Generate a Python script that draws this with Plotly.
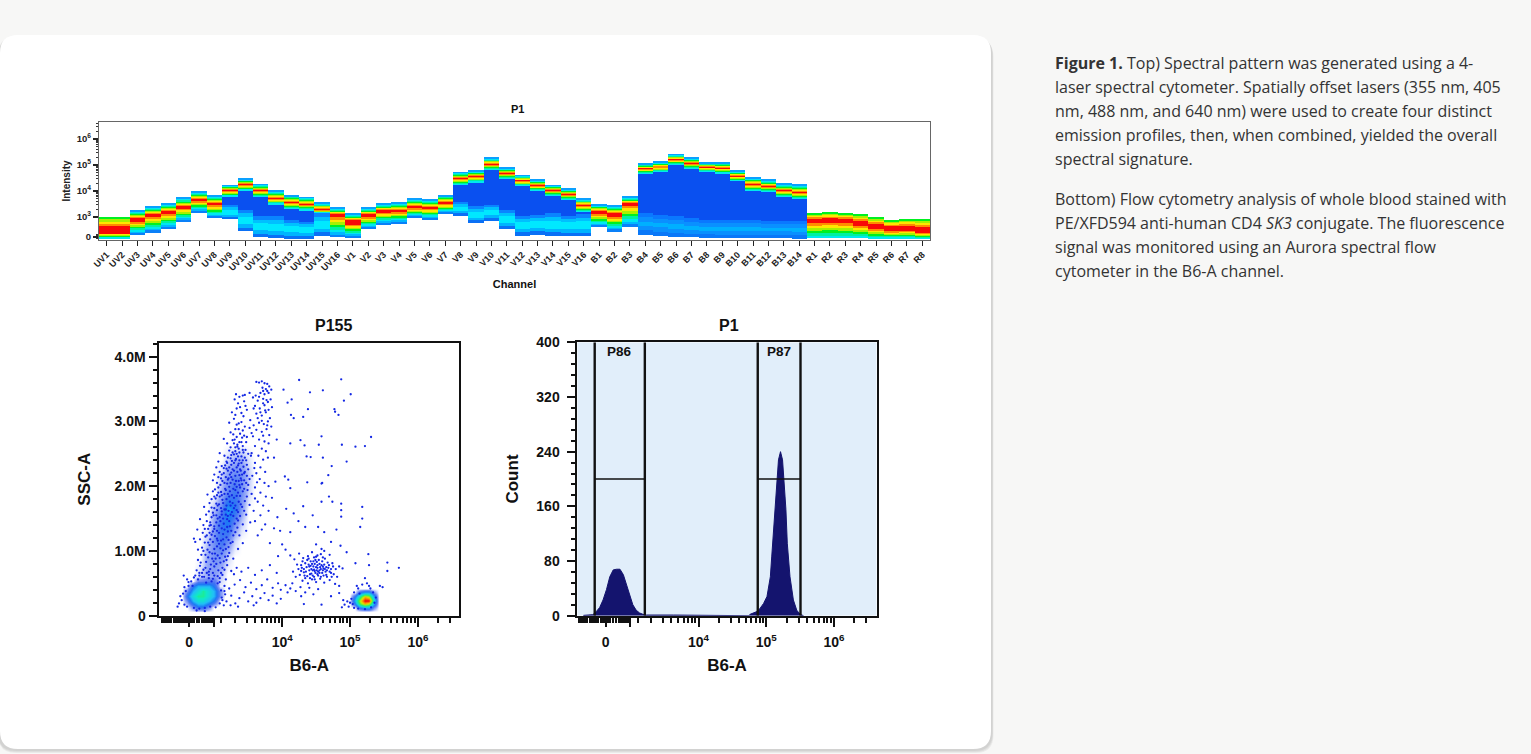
import plotly.graph_objects as go
import numpy as np

W, H = 1531, 754

# ---- spectrum panel, y values are display decades (0 sits at 2.24)
channels = ["UV%d" % i for i in range(1, 17)] + ["V%d" % i for i in range(1, 17)] + \
           ["B%d" % i for i in range(1, 15)] + ["R%d" % i for i in range(1, 9)]
spec_top = [2.99, 2.99, 3.24, 3.42, 3.52, 3.74, 3.97, 3.81, 4.23, 4.48, 4.27, 4.01, 3.84, 3.77, 3.56, 3.36,
            3.12, 3.36, 3.52, 3.56, 3.70, 3.66, 3.84, 4.73, 4.78, 5.28, 4.89, 4.61, 4.43, 4.23, 4.09, 3.70,
            3.49, 3.45, 3.79, 5.06, 5.12, 5.42, 5.28, 5.08, 5.10, 4.78, 4.53, 4.43, 4.28, 4.25,
            3.17, 3.20, 3.17, 3.10, 2.99, 2.88, 2.94, 2.94]
spec_peak = [2.51, 2.51, 2.90, 3.06, 3.19, 3.38, 3.65, 3.51, 4.01, 4.24, 4.01, 3.73, 3.56, 3.50, 3.28, 3.06,
             2.81, 3.06, 3.22, 3.23, 3.38, 3.36, 3.54, 4.47, 4.55, 5.03, 4.68, 4.39, 4.21, 4.02, 3.87, 3.45,
             3.18, 3.09, 3.49, 4.85, 4.92, 5.20, 5.06, 4.91, 4.88, 4.57, 4.25, 4.18, 4.01, 3.95,
             2.86, 2.88, 2.86, 2.77, 2.65, 2.55, 2.58, 2.51]
spec_core = [None, None, None, None, None, None, None, None, 3.47, 3.28, 3.03, 3.03, 2.90, 2.83, 3.15, None,
             None, None, None, None, None, None, None, 3.58, 3.41, 3.47, 3.28, 3.06, 3.09, 3.15, 3.06, 3.12,
             None, None, None, 3.15, 3.09, 3.06, 2.96, 2.90, 2.90, 2.90, 2.90, 2.86, 2.86, 2.86,
             None, None, None, None, None, None, None, None]
spec_bottom = [2.17, 2.17, 2.32, 2.42, 2.55, 2.83, 3.19, 2.97, 2.91, 2.45, 2.22, 2.18, 2.17, 2.17, 2.26, 2.22,
               2.22, 2.55, 2.73, 2.77, 2.97, 2.91, 3.12, 3.05, 2.77, 2.86, 2.54, 2.28, 2.32, 2.26, 2.26, 2.26,
               2.63, 2.46, 2.63, 2.32, 2.28, 2.22, 2.22, 2.19, 2.18, 2.18, 2.18, 2.18, 2.18, 2.16,
               2.19, 2.19, 2.19, 2.19, 2.17, 2.16, 2.16, 2.16]
spec_red = [.32, .32, .19, .15, .15, .13, .10, .13, .09, .08, .08, .08, .08, .08, .09, .15,
            .20, .15, .13, .12, .12, .13, .12, .08, .08, .08, .08, .07, .07, .07, .07, .10,
            .15, .18, .12, .07, .07, .07, .07, .07, .07, .07, .07, .07, .07, .07,
            .19, .19, .19, .22, .23, .23, .23, .28]
green_top = ["UV1", "UV2", "R1", "R2", "R3", "R4", "R5", "R6", "R7", "R8"]

spec_ticks = [2.24, 3, 4, 5, 6]
spec_ticktext = ["0", "10<sup>3</sup>", "10<sup>4</sup>", "10<sup>5</sup>", "10<sup>6</sup>"]
spec_minor = [2.16, 2.19, 2.21, 2.27, 2.30, 2.33] + [k + np.log10(m) for k in (3, 4, 5, 6) for m in range(2, 10)]

# ---- dot plot, x values are display decades (0 sits at 2.63), y in millions
flow_ticks = [2.63, 2.99, 4, 5, 6]
flow_ticktext = ["0", "", "10<sup>4</sup>", "10<sup>5</sup>", "10<sup>6</sup>"]
flow_minor = [2.23, 2.25, 2.27, 2.29, 2.32, 2.33, 2.36, 2.40, 2.43, 2.46, 2.49, 2.52,
              2.56, 2.57, 2.58, 2.59, 2.60, 2.61, 2.62, 2.64, 2.65, 2.66, 2.67, 2.68, 2.69, 2.70,
              2.74, 2.78, 2.82, 2.85, 2.88, 2.91, 2.94, 2.97, 3.10, 3.30, 3.48, 3.60, 3.70, 3.78, 3.84, 3.90, 3.95] + \
             [k + np.log10(m) for k in (4, 5, 6) for m in range(2, 10) if k + np.log10(m) < 6.6]

main_cloud = [(2.78, .62), (2.84, .71), (2.92, .58), (2.98, .66), (3.05, .61), (3.12, .74), (2.88, .83), (2.95, .79),
              (3.02, .88), (3.09, .82), (3.16, .91), (2.81, .94), (2.90, 1.02), (2.97, .96), (3.04, 1.07), (3.13, 1.01),
              (3.21, 1.06), (2.86, 1.13), (2.94, 1.18), (3.01, 1.23), (3.10, 1.16), (3.18, 1.21), (3.27, 1.14), (2.76, .86),
              (2.72, 1.14), (2.70, 1.19), (2.83, 1.28), (2.91, 1.34), (2.98, 1.30), (3.07, 1.39), (3.15, 1.33), (3.23, 1.38),
              (3.31, 1.29), (3.37, 1.24), (2.89, 1.46), (2.96, 1.52), (3.03, 1.44), (3.11, 1.56), (3.19, 1.49), (3.28, 1.54),
              (3.35, 1.47), (3.42, 1.41), (2.92, 1.61), (3.00, 1.66), (3.07, 1.72), (3.15, 1.64), (3.24, 1.70), (3.33, 1.63),
              (3.41, 1.68), (3.47, 1.56), (2.96, 1.80), (3.04, 1.86), (3.12, 1.79), (3.20, 1.88), (3.29, 1.82), (3.38, 1.85),
              (3.45, 1.77), (3.52, 1.71), (3.01, 1.95), (3.09, 2.02), (3.16, 1.96), (3.24, 2.05), (3.33, 1.99), (3.41, 2.03),
              (3.49, 1.94), (3.55, 1.88), (3.06, 2.14), (3.14, 2.20), (3.21, 2.12), (3.29, 2.24), (3.37, 2.17), (3.45, 2.22),
              (3.52, 2.11), (3.11, 2.31), (3.18, 2.38), (3.25, 2.33), (3.32, 2.42), (3.40, 2.36), (3.47, 2.40), (3.15, 2.47),
              (3.22, 2.55), (3.29, 2.49), (3.36, 2.58), (3.43, 2.52), (3.19, 2.66), (3.27, 2.71), (3.34, 2.64), (3.41, 2.75),
              (3.47, 2.68), (3.24, 2.83), (3.31, 2.88), (3.38, 2.81), (3.45, 2.92), (3.22, 2.98), (3.29, 3.04), (3.36, 2.97),
              (3.43, 3.08), (3.26, 3.14), (3.33, 3.20), (3.40, 3.13), (3.46, 3.24), (3.30, 3.34), (3.37, 3.38), (3.44, 3.31),
              (3.35, 2.46), (3.31, 2.60), (3.26, 2.39), (3.38, 2.26), (3.23, 2.18), (3.18, 2.27), (3.10, 1.91), (3.03, 1.73),
              (2.99, 1.55), (2.93, 1.39), (2.87, 1.22), (2.82, 1.05), (2.79, .77), (3.22, .97), (3.28, .88), (3.35, 1.03),
              (3.19, .78), (3.25, .69), (3.33, .74), (3.12, .63), (3.17, .56), (3.08, .52), (2.96, .53), (2.88, .51),
              (3.42, 1.12), (3.47, 1.31), (3.53, 1.44), (3.58, 1.62), (3.60, 1.81), (3.63, 2.06), (3.59, 2.28), (3.54, 2.47),
              (2.75, 1.33), (2.79, 1.49), (2.85, 1.68), (2.90, 1.87), (2.98, 2.09), (3.03, 2.29), (3.08, 2.51), (3.14, 2.73)]

# more of the same cloud, filling the densest stretch of the column
main_fill = [(2.85, .60), (2.89, .66), (2.94, .72), (3.00, .76), (3.06, .70), (3.10, .66), (3.15, .71), (2.91, .90),
             (2.99, .84), (3.05, .93), (3.11, .96), (3.18, .86), (2.84, 1.00), (2.93, 1.09), (3.00, 1.03), (3.07, 1.11),
             (3.15, 1.10), (3.24, 1.12), (2.89, 1.24), (2.96, 1.25), (3.04, 1.19), (3.07, 1.28), (3.13, 1.26), (3.20, 1.30),
             (3.28, 1.24), (3.34, 1.36), (2.94, 1.44), (3.00, 1.38), (3.05, 1.50), (3.09, 1.46), (3.14, 1.42), (3.17, 1.56),
             (3.22, 1.46), (3.26, 1.60), (3.30, 1.42), (3.38, 1.54), (2.98, 1.59), (3.04, 1.63), (3.10, 1.66), (3.13, 1.74),
             (3.18, 1.70), (3.21, 1.62), (3.27, 1.74), (3.31, 1.70), (3.36, 1.76), (3.44, 1.62), (3.02, 1.81), (3.08, 1.84),
             (3.15, 1.88), (3.18, 1.80), (3.23, 1.92), (3.26, 1.86), (3.31, 1.94), (3.35, 1.90), (3.42, 1.92), (3.48, 1.84),
             (3.06, 1.98), (3.12, 2.08), (3.19, 2.04), (3.22, 1.99), (3.27, 2.10), (3.30, 2.03), (3.36, 2.08), (3.39, 2.12),
             (3.44, 2.09), (3.50, 2.02), (3.11, 2.18), (3.17, 2.14), (3.25, 2.21), (3.31, 2.16), (3.34, 2.22), (3.41, 2.18),
             (3.48, 2.16), (3.16, 2.32), (3.22, 2.29), (3.29, 2.36), (3.35, 2.32), (3.37, 2.40), (3.43, 2.30), (3.45, 2.44),
             (3.20, 2.44), (3.27, 2.52), (3.33, 2.50), (3.40, 2.46), (3.46, 2.56), (3.50, 2.50), (3.24, 2.60), (3.29, 2.66),
             (3.37, 2.68), (3.42, 2.62), (3.48, 2.76), (3.33, 2.76), (3.28, 2.80), (3.36, 2.88), (3.42, 2.86), (3.33, 2.95),
             (3.40, 2.99), (3.31, 3.10), (3.38, 3.22), (3.35, 3.28), (3.42, 3.40), (3.32, 3.42), (2.74, .70), (2.80, .82),
             (2.76, 1.02), (2.79, 1.18), (2.84, 1.40), (2.88, 1.56), (2.93, 1.74), (2.98, 1.92), (3.00, 2.18), (3.06, 2.38),
             (2.82, .66), (2.87, .74), (2.92, .68), (2.97, .88), (3.03, .80), (3.08, .89), (3.14, .84), (3.20, .92),
             (2.87, .94), (2.93, .98), (3.01, .96), (3.09, 1.04), (3.17, 1.03), (2.91, 1.13), (2.98, 1.14), (3.05, 1.16),
             (3.13, 1.18), (3.21, 1.17), (2.86, 1.34), (2.93, 1.28), (3.00, 1.34), (3.04, 1.31), (3.11, 1.35), (3.19, 1.37),
             (3.25, 1.31), (2.95, 1.40), (3.03, 1.55), (3.08, 1.52), (3.13, 1.50), (3.20, 1.54), (3.24, 1.56), (3.33, 1.50),
             (2.96, 1.67), (3.05, 1.70), (3.11, 1.61), (3.17, 1.64), (3.23, 1.76), (3.29, 1.66), (3.35, 1.60), (3.39, 1.72),
             (3.00, 1.84), (3.06, 1.90), (3.11, 1.86), (3.17, 1.94), (3.22, 1.84), (3.28, 1.96), (3.33, 1.85), (3.38, 1.98),
             (3.44, 1.96), (3.04, 2.05), (3.10, 2.12), (3.15, 2.05), (3.20, 2.10), (3.25, 2.14), (3.32, 2.08), (3.37, 2.02),
             (3.40, 2.09), (3.47, 2.05), (3.08, 2.22), (3.14, 2.28), (3.20, 2.24), (3.27, 2.26), (3.33, 2.29), (3.39, 2.24),
             (3.44, 2.20), (3.50, 2.26), (3.19, 2.36), (3.24, 2.43), (3.31, 2.40), (3.36, 2.35), (3.42, 2.40), (3.48, 2.33),
             (3.25, 2.48), (3.31, 2.54), (3.37, 2.52), (3.42, 2.56), (3.34, 2.61), (3.40, 2.68), (3.30, 2.72), (3.44, 2.78)]

upper_streak = [(3.62, 3.61), (3.66, 3.60), (3.70, 3.62), (3.74, 3.59), (3.78, 3.58), (3.71, 3.52), (3.76, 3.50), (3.81, 3.54),
                (3.84, 3.49), (3.68, 3.44), (3.74, 3.42), (3.80, 3.44), (3.57, 3.37), (3.64, 3.32), (3.72, 3.35), (3.79, 3.30),
                (3.83, 3.34), (3.60, 3.24), (3.67, 3.20), (3.74, 3.25), (3.80, 3.18), (3.85, 3.22), (3.62, 3.12), (3.70, 3.09),
                (3.76, 3.14), (3.82, 3.05), (3.66, 2.98), (3.73, 2.96), (3.79, 3.00), (3.84, 2.92), (3.62, 2.87), (3.70, 2.84),
                (3.77, 2.88), (3.81, 2.79), (3.57, 2.77), (3.66, 2.72), (3.74, 2.69), (3.80, 2.66), (3.60, 2.62), (3.70, 2.58),
                (3.76, 2.54), (3.55, 2.51), (3.65, 2.47), (3.72, 2.41), (3.79, 2.44), (3.60, 2.36), (3.68, 2.29), (3.75, 2.22),
                (3.62, 2.20), (3.56, 2.16), (3.67, 2.11), (3.74, 2.05), (3.80, 2.00), (3.60, 1.98), (3.68, 1.90), (3.76, 1.84),
                (3.64, 1.76), (3.72, 1.70), (3.80, 1.62), (3.68, 1.55), (3.60, 1.46), (3.75, 1.41), (3.70, 1.33), (3.64, 1.24),
                (3.85, 1.82), (3.90, 2.07), (3.88, 2.44), (3.92, 2.72), (3.45, 3.41), (3.52, 3.44), (3.48, 3.18), (3.53, 3.02),
                (3.72, 3.28), (3.77, 3.33), (3.75, 3.17), (3.70, 3.01), (3.78, 2.94), (3.72, 2.78), (3.68, 3.14), (3.64, 3.05),
                (3.58, 2.94), (3.55, 2.82), (3.78, 3.47), (3.72, 3.47), (3.66, 3.38), (3.61, 3.40), (3.58, 3.20), (3.52, 2.90)]

sparse_points = [(4.25, 3.64), (4.87, 3.65), (5.01, 3.42), (4.91, 3.32), (4.41, 3.45), (4.60, 3.48), (4.77, 3.19), (4.78, 3.15),
                 (4.83, 3.10), (4.02, 3.49), (4.14, 3.34), (4.08, 3.29), (4.38, 3.19), (4.13, 3.10), (4.31, 3.07), (4.17, 3.05),
                 (4.58, 2.77), (5.31, 2.76), (5.22, 2.62), (5.08, 2.61), (4.88, 2.64), (4.54, 2.64), (4.33, 2.63), (4.27, 2.71),
                 (4.12, 2.66), (4.36, 2.46), (4.42, 2.45), (4.60, 2.44), (4.95, 2.38), (4.73, 2.31), (4.04, 2.15), (4.09, 2.10),
                 (4.37, 2.06), (4.58, 2.04), (4.59, 2.05), (4.68, 2.17), (4.12, 1.97), (4.69, 1.84), (4.58, 1.76), (4.74, 1.76),
                 (4.87, 1.73), (5.18, 1.68), (4.87, 1.63), (4.06, 1.65), (4.31, 1.69), (4.17, 1.58), (5.18, 1.50), (4.87, 1.53),
                 (4.53, 1.37), (4.34, 1.37), (4.80, 1.33), (5.15, 1.37), (3.97, 1.31), (4.12, 1.29), (5.27, .95), (5.55, .82),
                 (5.72, .74), (5.55, .69), (5.28, .78), (5.08, .81), (4.00, 1.10), (3.94, .92), (3.82, 1.12), (4.05, 1.02),
                 (3.88, 1.35), (3.93, 1.52), (4.24, 1.46), (4.45, 1.55), (4.62, 1.29), (4.72, 1.14), (4.86, 1.08), (4.95, .98)]

mid_cluster = [(4.12, .93), (4.18, .87), (4.25, .96), (4.31, .89), (4.38, .92), (4.44, .98), (4.50, .91), (4.57, .95),
               (4.63, .88), (4.70, .94), (4.58, 1.03), (4.50, 1.10), (4.62, 1.00), (4.22, .79), (4.29, .74), (4.34, .81),
               (4.40, .70), (4.46, .76), (4.51, .83), (4.57, .72), (4.62, .79), (4.68, .74), (4.74, .81), (4.79, .72),
               (4.84, .76), (4.89, .73), (4.16, .68), (4.26, .63), (4.32, .67), (4.37, .61), (4.43, .65), (4.48, .69),
               (4.53, .62), (4.59, .66), (4.65, .63), (4.70, .68), (4.76, .64), (4.81, .60), (4.30, .54), (4.38, .50),
               (4.44, .56), (4.50, .52), (4.56, .57), (4.62, .51), (4.70, .55), (4.78, .49), (4.84, .46), (4.42, .77),
               (4.47, .71), (4.52, .74), (4.55, .80), (4.49, .66), (4.42, .84), (4.36, .75), (4.60, .70), (4.65, .75),
               (4.54, .86), (4.45, .62), (4.57, .60), (4.34, .58), (4.12, .42), (4.20, .38), (4.27, .44), (4.34, .36),
               (4.40, .43), (4.05, .47), (3.98, .40), (4.15, .50), (4.08, .36), (4.46, .33), (4.53, .41), (4.28, .30),
               (4.30, .84), (4.35, .68), (4.39, .79), (4.43, .72), (4.48, .80), (4.50, .75), (4.53, .68), (4.56, .75),
               (4.59, .84), (4.61, .73), (4.64, .68), (4.67, .82), (4.41, .64), (4.46, .84), (4.51, .70), (4.72, .72),
               (4.28, .78), (4.32, .72), (4.37, .86), (4.40, .76), (4.44, .80), (4.45, .70), (4.49, .86), (4.52, .78),
               (4.55, .70), (4.58, .78), (4.60, .76), (4.63, .72), (4.66, .70), (4.69, .78), (4.72, .66), (4.75, .76),
               (4.41, .58), (4.47, .60), (4.52, .64), (4.55, .66), (4.61, .62), (4.39, .88), (4.47, .90), (4.52, .93),
               (4.60, .90), (4.33, .62), (4.28, .69), (4.24, .72), (4.20, .60), (4.66, .60), (4.73, .60), (4.48, .56)]

low_scatter = [(3.18, .22), (3.25, .31), (3.31, .19), (3.37, .27), (3.44, .36), (3.50, .22), (3.56, .30), (3.62, .20),
               (3.68, .27), (3.74, .35), (3.80, .24), (3.86, .31), (3.92, .19), (3.98, .26), (3.22, .42), (3.30, .48),
               (3.38, .55), (3.46, .44), (3.54, .51), (3.62, .41), (3.70, .47), (3.78, .56), (3.86, .43), (3.94, .50),
               (3.40, .68), (3.50, .74), (3.60, .63), (3.70, .70), (3.82, .78), (3.92, .66), (3.29, .64), (3.15, .38),
               (3.12, .24), (3.24, .16), (3.35, .14), (3.58, .16), (4.32, .18), (4.58, .17), (4.72, .30), (4.84, .35)]

blob_rims = [(2.52, .24), (2.56, .17), (2.50, .30), (2.58, .38), (2.62, .46), (2.66, .53), (2.60, .14), (2.70, .12),
             (2.78, .11), (2.86, .12), (2.94, .14), (3.02, .13), (3.08, .19), (3.11, .28), (3.10, .39), (3.05, .50),
             (2.70, .59), (2.76, .56), (2.82, .60), (2.98, .57), (2.48, .19), (2.55, .62), (2.60, .56), (2.46, .14),
             (2.86, .07), (2.74, .08), (4.92, .17), (4.96, .22), (4.98, .14), (5.02, .26), (5.04, .18), (4.90, .24),
             (5.06, .36), (5.12, .42), (5.18, .48), (5.25, .50), (5.30, .42), (5.34, .36), (5.38, .28), (5.36, .20),
             (5.31, .13), (5.22, .10), (5.12, .11), (5.44, .46), (5.48, .44), (5.22, .58), (5.14, .34), (5.06, .12),
             (2.56, .44), (2.62, .52), (2.72, .62), (2.78, .66), (2.68, .46), (2.54, .34), (3.14, .16), (3.16, .33),
             (3.15, .46), (3.08, .58), (3.00, .62), (2.92, .63), (4.88, .13), (5.00, .20), (5.10, .46), (5.28, .46)]

# rough density read from the colours of the hot spots
blob_low_x = [2.52, 2.60, 2.68, 2.76, 2.84, 2.92, 3.00, 3.08, 3.16]
blob_low_y = [.06, .14, .22, .30, .38, .46, .54, .62]
blob_low_z = [[0, 0, 0, 0, 0, 0, 0, 0, 0],
              [0, 0, 1, 2, 2, 1, 0, 0, 0],
              [0, 1, 3, 4, 4, 3, 2, 0, 0],
              [0, 2, 4, 5, 5, 4, 3, 1, 0],
              [0, 1, 3, 4, 5, 4, 3, 1, 0],
              [0, 0, 2, 3, 3, 3, 2, 0, 0],
              [0, 0, 0, 1, 1, 1, 1, 0, 0],
              [0, 0, 0, 0, 0, 0, 0, 0, 0]]

column_x = [2.70, 2.80, 2.90, 3.00, 3.10, 3.20, 3.30, 3.40, 3.50, 3.60]
column_y = [.40, .65, .90, 1.15, 1.40, 1.65, 1.90, 2.15, 2.40, 2.65]
column_z = [[0.0, 0.0, 0.0, 0.0, 0.0, 0.0, 0.0, 0.0, 0.0, 0.0],
            [0.0, 0.3, 0.7, 0.8, 0.4, 0.0, 0.0, 0.0, 0.0, 0.0],
            [0.0, 0.0, 0.7, 1.0, 0.9, 0.3, 0.0, 0.0, 0.0, 0.0],
            [0.0, 0.0, 0.4, 1.1, 1.6, 1.1, 0.3, 0.0, 0.0, 0.0],
            [0.0, 0.0, 0.0, 0.9, 1.9, 2.2, 0.9, 0.3, 0.0, 0.0],
            [0.0, 0.0, 0.0, 0.5, 1.2, 2.7, 2.1, 0.8, 0.0, 0.0],
            [0.0, 0.0, 0.0, 0.0, 0.6, 1.2, 1.7, 1.0, 0.3, 0.0],
            [0.0, 0.0, 0.0, 0.0, 0.3, 0.8, 1.2, 1.0, 0.4, 0.0],
            [0.0, 0.0, 0.0, 0.0, 0.0, 0.3, 0.6, 0.6, 0.2, 0.0],
            [0.0, 0.0, 0.0, 0.0, 0.0, 0.0, 0.0, 0.0, 0.0, 0.0]]

blob_hot_x = [5.00, 5.07, 5.14, 5.21, 5.28, 5.35, 5.42]
blob_hot_y = [.06, .12, .18, .24, .30, .36, .42]
blob_hot_z = [[0, 0, 0, 0, 0, 0, 0],
              [0, 0, 2, 3, 3, 1, 0],
              [0, 2, 6, 8, 7, 3, 0],
              [0, 3, 7, 10, 10, 4, 0],
              [0, 2, 5, 8, 7, 3, 0],
              [0, 0, 2, 3, 3, 1, 0],
              [0, 0, 0, 0, 0, 0, 0]]

# ---- histogram
hist_x = [2.30, 2.44, 2.49, 2.54, 2.59, 2.64, 2.69, 2.74, 2.79, 2.84, 2.89, 2.94, 2.99, 3.03, 3.08, 3.13, 3.18, 3.23,
          3.63, 4.02, 4.32, 4.39, 4.46, 4.66, 4.74, 4.76, 4.86, 4.91, 4.96, 5.01, 5.06, 5.08, 5.11, 5.13, 5.16, 5.18,
          5.21, 5.24, 5.26, 5.29, 5.31, 5.35, 5.40, 5.45, 5.50, 5.55]
hist_y = [0.5, 1.5, 6, 12, 23, 38, 57, 67, 68, 68, 60, 45, 29, 16, 8, 4, 2, 1,
          1, 1, 1, 0, 1, 1, 0, 2, 6, 11, 18, 28, 57, 86, 130, 160, 203, 228,
          240, 228, 199, 155, 106, 57, 23, 8, 2, 0]
gate_edges = [2.467, 3.207, 4.874, 5.505]
gate_level = 200
gate_names = ["P86", "P87"]
count_ticks = [0, 80, 160, 240, 320, 400]
count_minor = [16, 32, 48, 64, 96, 112, 128, 144, 176, 192, 208, 224, 256, 272, 288, 304, 336, 352, 368, 384]

ssc_ticks = [0, 1, 2, 3, 4]
ssc_ticktext = ["0", "1.0M", "2.0M", "3.0M", "4.0M"]
ssc_minor = [.2, .4, .6, .8, 1.2, 1.4, 1.6, 1.8, 2.2, 2.4, 2.6, 2.8, 3.2, 3.4, 3.6, 3.8, 4.2]

caption = [("<b>Figure 1.</b> Top) Spectral pattern was generated using a 4-", 63),
           ("laser spectral cytometer. Spatially offset lasers (355 nm, 405", 87),
           ("nm, 488 nm, and 640 nm) were used to create four distinct", 111),
           ("emission profiles, then, when combined, yielded the overall", 135),
           ("spectral signature.", 159),
           ("Bottom) Flow cytometry analysis of whole blood stained with", 199),
           ("PE/XFD594 anti-human CD4 <i>SK3</i> conjugate. The fluorescence", 223),
           ("signal was monitored using an Aurora spectral flow", 247),
           ("cytometer in the B6-A channel.", 271)]

DENSITY = [[0, "rgba(30,70,240,0)"], [.06, "rgba(30,70,240,.45)"], [.14, "rgba(30,90,240,.8)"], [.22, "#1e78f5"],
           [.32, "#20c0f5"], [.45, "#10e8c8"], [.58, "#30f050"], [.72, "#d8f000"], [.85, "#ff9000"], [1, "#f00010"]]
UP_RAMP = ["#ff8c00", "#ffe600", "#a8f000", "#00f020", "#00f0a0", "#00e8f0", "#0aa0ff"]
DOWN_RAMP = ["#ff8c00", "#ffe600", "#a8f000", "#00f020", "#00f0a0", "#00e8f0", "#00b8ff", "#0a80f8"]
LOW_CYAN = ["#0a84ff", "#00c0ff", "#00e8ff", "#00e8fe", "#00b4fe", "#0a70f5"]
LOW_BLUE = ["#0a78ff", "#0a90ff", "#00b0ff", "#0a90fe", "#0a78f8"]
FONT = "Liberation Sans"


def px(x):
    return x / W


def py(y):
    return 1 - y / H


def round_rect(x0, y0, x1, y1, r):
    a, b, c, d = px(x0), px(x1), py(y0), py(y1)
    rx, ry = r / W, r / H
    return (f"M{a + rx},{c} L{b - rx},{c} Q{b},{c} {b},{c - ry} L{b},{d + ry} Q{b},{d} {b - rx},{d} "
            f"L{a + rx},{d} Q{a},{d} {a},{d + ry} L{a},{c - ry} Q{a},{c} {a + rx},{c} Z")


fig = go.Figure()

# spectrum: one stacked slice per colour
segments = {}


def add_seg(colour, name, lo, hi):
    s = segments.setdefault(colour, ([], [], []))
    s[0].append(name)
    s[1].append(lo)
    s[2].append(hi - lo)


def add_ramp(colours, near, far, name):
    edges = np.linspace(near, far, len(colours) + 1)
    for c, e0, e1 in zip(colours, edges[:-1], edges[1:]):
        add_seg(c, name, float(min(e0, e1)), float(max(e0, e1)))


for name, t, p, c, b, w in zip(channels, spec_top, spec_peak, spec_core, spec_bottom, spec_red):
    add_seg("#f80808", name, p - w / 2, p + w / 2)
    add_ramp(UP_RAMP[:4] if name in green_top else UP_RAMP, p + w / 2, t, name)
    if c is None:
        add_ramp(DOWN_RAMP[:6] if name in green_top else DOWN_RAMP, p - w / 2, b, name)
    else:
        s = max(c, p - w / 2 - (t - p) * 0.8)
        add_ramp(DOWN_RAMP[:6], p - w / 2, s, name)
        add_seg("#0a50f0", name, c, s)
        add_ramp(LOW_BLUE if name.startswith("B") else LOW_CYAN, c, b, name)

for colour, (names, bases, heights) in segments.items():
    fig.add_trace(go.Bar(x=names, base=bases, y=heights, width=1, marker=dict(color=colour, line_width=0),
                         showlegend=False, hoverinfo="skip", xaxis="x", yaxis="y"))

# dot plot: column haze under the dots, hot spots over them
fig.add_trace(go.Heatmap(x=column_x, y=column_y, z=column_z, zmin=0, zmax=10, zsmooth="best", colorscale=DENSITY,
                         showscale=False, hoverinfo="skip", xaxis="x2", yaxis="y2"))
dots = main_cloud + main_fill + upper_streak + sparse_points + mid_cluster + low_scatter + blob_rims
fig.add_trace(go.Scatter(x=[d[0] for d in dots], y=[d[1] for d in dots], mode="markers",
                         marker=dict(color="#1428e4", size=2.3), showlegend=False, xaxis="x2", yaxis="y2"))
for bx, by, bz in [(blob_low_x, blob_low_y, blob_low_z), (blob_hot_x, blob_hot_y, blob_hot_z)]:
    fig.add_trace(go.Heatmap(x=bx, y=by, z=bz, zmin=0, zmax=10, zsmooth="best", colorscale=DENSITY,
                             showscale=False, hoverinfo="skip", xaxis="x2", yaxis="y2"))

# histogram and gates
fig.add_trace(go.Scatter(x=hist_x, y=hist_y, mode="lines", fill="tozeroy", fillcolor="#14146e",
                         line=dict(color="#14146e", width=1), showlegend=False, xaxis="x3", yaxis="y3"))
for i, name in enumerate(gate_names):
    g0, g1 = gate_edges[2 * i], gate_edges[2 * i + 1]
    fig.add_trace(go.Scatter(x=[g0, g0, None, g1, g1], y=[0, 400, None, 0, 400], mode="lines",
                             line=dict(color="#111111", width=2.4), showlegend=False, xaxis="x3", yaxis="y3"))
    fig.add_trace(go.Scatter(x=[g0, g1], y=[gate_level, gate_level], mode="lines",
                             line=dict(color="#111111", width=1.6), showlegend=False, xaxis="x3", yaxis="y3"))
    fig.add_annotation(x=(g0 + g1) / 2, y=386, xref="x3", yref="y3", text=name, showarrow=False,
                       font=dict(family=FONT, size=13.5, color="#111111", weight="bold"))


def flow_axis(domain, anchor, title, major=None, minor=None, rng=None, text=None, standoff=10, label_gap=4):
    return dict(domain=[px(domain[0]), px(domain[1])], anchor=anchor, range=rng, tickmode="array", automargin=False,
                tickvals=major, ticktext=text, ticks="outside", ticklen=9, tickwidth=2.4, tickcolor="#111111",
                ticklabelstandoff=label_gap,
                minor=dict(tickmode="array", tickvals=minor, ticks="outside", ticklen=5, tickwidth=1.6,
                           tickcolor="#111111"),
                showgrid=False, zeroline=False, showline=True, linecolor="#111111", linewidth=1.6, mirror=True,
                tickfont=dict(family=FONT, size=14, color="#111111", weight="bold"),
                title=dict(text=title, standoff=standoff, font=dict(family=FONT, size=17, color="#111111", weight="bold")))


layout = dict(
    width=W, height=H, margin=dict(l=0, r=0, t=0, b=0), autosize=False,
    paper_bgcolor="#f7f7f6", plot_bgcolor="#ffffff", barmode="overlay", bargap=0,
    xaxis=dict(domain=[px(99), px(930)], anchor="y", type="category", categoryorder="array", categoryarray=channels,
               range=[-0.5, 53.5], tickmode="array", tickvals=channels, ticktext=channels, tickangle=-45,
               automargin=False, ticks="outside", ticklen=5, tickwidth=1.4, tickcolor="#222222", showgrid=False,
               showline=True, linecolor="#666666", linewidth=1.2, mirror=True,
               tickfont=dict(family=FONT, size=9, color="#222222", weight="bold"),
               title=dict(text="Channel", standoff=8, font=dict(family=FONT, size=11, color="#111111", weight="bold"))),
    yaxis=dict(domain=[py(240), py(122)], anchor="x", range=[2.12, 6.65], tickmode="array", tickvals=spec_ticks,
               ticktext=spec_ticktext, ticks="outside", ticklen=5, tickwidth=1.6, tickcolor="#222222",
               automargin=False,
               minor=dict(tickmode="array", tickvals=spec_minor, ticks="outside", ticklen=2, tickwidth=0.8,
                          tickcolor="#333333"),
               showgrid=False, zeroline=False, showline=True, linecolor="#666666", linewidth=1.2, mirror=True,
               tickfont=dict(family=FONT, size=9.5, color="#222222", weight="bold"),
               title=dict(text="Intensity", standoff=4, font=dict(family=FONT, size=10, color="#222222", weight="bold"))),
    xaxis2=flow_axis((159.3, 459.3), "y2", "B6-A", flow_ticks, flow_minor, [2.19, 6.61], flow_ticktext),
    yaxis2=dict(flow_axis((0, 1), "x2", "SSC-A", ssc_ticks, ssc_minor, [0, 4.216], ssc_ticktext, 20, 0),
                domain=[py(615.7), py(342.7)]),
    xaxis3=flow_axis((577.3, 876.7), "y3", "B6-A", flow_ticks, flow_minor, [2.21, 6.63], flow_ticktext),
    yaxis3=dict(flow_axis((0, 1), "x3", "Count", count_ticks, count_minor, [0, 400],
                          [str(v) for v in count_ticks], 13, 4),
                domain=[py(615.7), py(342.3)]),
    shapes=[dict(type="path", path=round_rect(-2, 36 + k, 992 + k / 2, 750 + k, 18), xref="paper", yref="paper",
                 fillcolor="rgba(0,0,0,0.05)", line_width=0, layer="below") for k in (3, 2, 1)] +
           [dict(type="path", path=round_rect(0, 35, 991, 749, 18), xref="paper", yref="paper",
                 fillcolor="#ffffff", line_width=0, layer="below"),
            dict(type="rect", xref="x3", yref="y3", x0=2.21, x1=6.63, y0=0, y1=400, fillcolor="#e1eefa",
                 line_width=0, layer="below")],
)
fig.update_layout(**layout)

for text, x, y, size in [("P1", 517, 109, 11), ("P155", 313, 325, 16), ("P1", 729, 325, 16)]:
    fig.add_annotation(x=px(x), y=py(y), xref="paper", yref="paper", text=text, showarrow=False, yanchor="middle",
                       font=dict(family=FONT, size=size, color="#111111", weight="bold"))

for text, y in caption:
    fig.add_annotation(x=px(1053), y=py(y), xref="paper", yref="paper", text=text, showarrow=False, xanchor="left",
                       yanchor="middle", align="left", font=dict(family="Open Sans", size=16, color="#333333"))

fig.write_html("out.html", config={"displayModeBar": False},
               post_script="document.body.style.margin='0';document.body.style.overflow='hidden';")
